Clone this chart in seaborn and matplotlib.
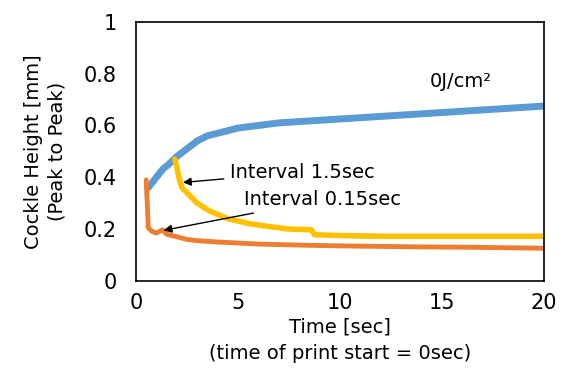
import matplotlib
matplotlib.use("Agg")
import matplotlib.pyplot as plt
import numpy as np
import pandas as pd
import seaborn as sns
from matplotlib.ticker import MultipleLocator

# values (time in sec, height in mm)
t_0j = [0.6, 0.8, 1.0, 1.3, 1.6, 2.0, 2.5, 3.0, 3.5, 4.0, 5.0, 6.0, 7.0, 8.0,
        9.0, 10.0, 11.0, 12.0, 13.0, 14.0, 15.0, 16.0, 17.0, 18.0, 19.0, 20.0]
h_0j = [0.36, 0.38, 0.40, 0.43, 0.45, 0.48, 0.51, 0.54, 0.56, 0.57, 0.59, 0.60,
        0.61, 0.615, 0.62, 0.625, 0.63, 0.635, 0.64, 0.645, 0.65, 0.655, 0.66,
        0.665, 0.67, 0.675]

t_15 = [1.9, 2.0, 2.1, 2.25, 2.5, 3.0, 3.6, 4.5, 5.6, 6.5, 7.5, 8.6, 8.75,
        10.0, 12.0, 14.0, 16.0, 18.0, 20.0]
h_15 = [0.47, 0.44, 0.40, 0.36, 0.34, 0.30, 0.27, 0.24, 0.22, 0.21, 0.20, 0.197,
        0.178, 0.175, 0.172, 0.172, 0.172, 0.172, 0.172]

t_015 = [0.5, 0.55, 0.6, 0.8, 1.0, 1.3, 1.5, 2.0, 2.5, 3.0, 4.0, 5.0, 6.0, 8.0,
         10.0, 12.0, 14.0, 16.0, 18.0, 20.0]
h_015 = [0.39, 0.30, 0.205, 0.19, 0.185, 0.197, 0.18, 0.17, 0.16, 0.155, 0.15,
         0.146, 0.142, 0.138, 0.135, 0.133, 0.131, 0.13, 0.128, 0.126]

series_names = ["0J/cm²", "Interval 1.5sec", "Interval 0.15sec"]
colors = ["#5B9BD5", "#FFC000", "#ED7D31"]
widths = [5.0, 4.0, 3.5]

df = pd.concat([
    pd.DataFrame({"t": t_0j, "h": h_0j, "series": series_names[0]}),
    pd.DataFrame({"t": t_15, "h": h_15, "series": series_names[1]}),
    pd.DataFrame({"t": t_015, "h": h_015, "series": series_names[2]}),
])

sns.set_style("white")
plt.rcParams["font.family"] = ["DejaVu Sans"]
plt.rcParams["text.color"] = "black"
plt.rcParams["axes.labelcolor"] = "black"

fig = plt.figure(figsize=(5.62, 3.71), dpi=100)
ax = fig.add_axes([0.242, 0.243, 0.726, 0.698])

for name, color, lw in zip(series_names, colors, widths):
    sns.lineplot(data=df[df["series"] == name], x="t", y="h", color=color,
                 linewidth=lw, ax=ax, legend=False, sort=False)

ax.set_xlim(0, 20)
ax.set_ylim(0, 1)
ax.set_xticks([0, 5, 10, 15, 20])
ax.xaxis.set_minor_locator(MultipleLocator(1))
ax.set_yticks([0, 0.2, 0.4, 0.6, 0.8, 1.0])
ax.set_yticklabels(["0", "0.2", "0.4", "0.6", "0.8", "1"])
ax.tick_params(axis="both", which="both", direction="in", length=5, width=1,
               labelsize=15, colors="black")
ax.tick_params(axis="y", pad=14)
ax.tick_params(axis="x", pad=9)
ax.tick_params(axis="x", which="both", top=False)
for s in ax.spines.values():
    s.set_color("black")
    s.set_linewidth(1.2)

ax.set_xlabel("Time [sec]\n(time of print start = 0sec)", fontsize=14,
              linespacing=1.5, labelpad=3)
ax.set_ylabel("Cockle Height [mm]\n(Peak to Peak)", fontsize=14,
              linespacing=1.3, labelpad=12)

ax.text(15.9, 0.77, "0J/cm²", fontsize=14, ha="center", va="center")
ax.annotate("Interval 1.5sec", xy=(2.3, 0.38), xytext=(4.6, 0.42),
            fontsize=14, va="center",
            arrowprops=dict(arrowstyle="-|>", color="black", lw=1,
                            mutation_scale=12, shrinkB=0))
ax.annotate("Interval 0.15sec", xy=(1.35, 0.195), xytext=(5.3, 0.313),
            fontsize=14, va="center",
            arrowprops=dict(arrowstyle="-|>", color="black", lw=1,
                            mutation_scale=12, shrinkB=0))

fig.savefig("out.png", dpi=100)
